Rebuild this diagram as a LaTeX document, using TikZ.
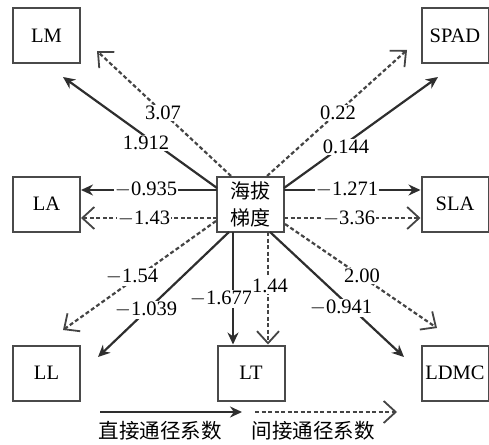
\documentclass[tikz,border=0pt]{standalone}
\usepackage{fontspec}
\setmainfont{Liberation Serif}
\newfontfamily\cjk{Noto Sans CJK SC}
\usetikzlibrary{arrows.meta}
\definecolor{boxgray}{HTML}{4A4A4A}
\definecolor{lineA}{HTML}{2E2E2E}
\definecolor{lineB}{HTML}{444444}
\begin{document}
\begin{tikzpicture}[x=1pt,y=-1pt,
  box/.style={draw=boxgray,line width=2pt,minimum width=67pt,minimum height=55pt,inner sep=0pt,font=\fontsize{20.5}{22}\selectfont},
  direct/.style={draw=lineA,line width=2.2pt,-{Stealth[length=12pt,width=11pt]}},
  indirect/.style={draw=lineB,line width=2.2pt,dash pattern=on 4pt off 2.5pt,-{Straight Barb[length=12pt,width=22pt,line width=1.8pt]}},
  lab/.style={fill=white,inner sep=1pt,font=\fontsize{20.5}{22}\selectfont},
  leg/.style={inner sep=0pt,font=\cjk\fontsize{20.5}{22}\selectfont}]
\useasboundingbox (0,0) rectangle (489,444);

% boxes
\node[box] (LM) at (46.5,35.5) {LM};
\node[box] (LA) at (46.5,204) {LA};
\node[box] (LL) at (46.5,373) {LL};
\node[box] (LT) at (251,373) {LT};
\node[box] (LDMC) at (455,373) {LDMC};
\node[box] (SPAD) at (455,35.5) {SPAD};
\node[box] (SLA) at (455,204) {SLA};
\node[box,align=center,font=\cjk\fontsize{20}{27}\selectfont] (C) at (250,204) {海拔\\梯度};

% start points on centre box
\coordinate (sLMd) at (217,188);
\coordinate (sLMi) at (231,176);
\coordinate (sSPd) at (284,188);
\coordinate (sSPi) at (267,176);
\coordinate (sLAd) at (217,190);
\coordinate (sLAi) at (217,218);
\coordinate (sSLd) at (284,190);
\coordinate (sSLi) at (284,218);
\coordinate (sLLi) at (216,221);
\coordinate (sLLd) at (229,232);
\coordinate (sLTd) at (233,232);
\coordinate (sLTi) at (268,232);
\coordinate (sLDd) at (270,232);
\coordinate (sLDi) at (285,224);

% free ends
\coordinate (eLMd) at (63,77);
\coordinate (eLMi) at (97,51);
\coordinate (eSPd) at (438,77);
\coordinate (eSPi) at (407,50);
\coordinate (eLLi) at (63,330);
\coordinate (eLLd) at (98,357);
\coordinate (eLDd) at (404,357);
\coordinate (eLDi) at (437,328);

% connectors
\draw[direct] (sLMd) -- (eLMd);
\draw[indirect] (sLMi) -- (eLMi);
\draw[direct] (sSPd) -- (eSPd);
\draw[indirect] (sSPi) -- (eSPi);
\draw[direct] (sLAd) -- (LA.east |- sLAd);
\draw[indirect] (sLAi) -- (LA.east |- sLAi);
\draw[direct] (sSLd) -- (SLA.west |- sSLd);
\draw[indirect] (sSLi) -- (SLA.west |- sSLi);
\draw[indirect] (sLLi) -- (eLLi);
\draw[direct] (sLLd) -- (eLLd);
\draw[direct] (sLTd) -- (sLTd |- LT.north);
\draw[indirect] (sLTi) -- (sLTi |- LT.north);
\draw[direct] (sLDd) -- (eLDd);
\draw[indirect] (sLDi) -- (eLDi);

% labels
\node[lab] (l1) at (163,113) {3.07};
\node[lab] (l2) at (146,143) {1.912};
\node[lab] (l3) at (146,190) {$-$0.935};
\node[lab] (l4) at (144,219) {$-$1.43};
\node[lab] (l5) at (338,113) {0.22};
\node[lab] (l6) at (346,147) {0.144};
\node[lab] (l7) at (347,190) {$-$1.271};
\node[lab] (l8) at (349,219) {$-$3.36};
\node[lab] (l9) at (132,277) {$-$1.54};
\node[lab] (l10) at (146,310) {$-$1.039};
\node[lab] (l11) at (221,299) {$-$1.677};
\node[lab] (l12) at (270,286) {1.44};
\node[lab] (l13) at (362,276) {2.00};
\node[lab] (l14) at (341,308) {$-$0.941};

% legend
\coordinate (g1a) at (100,412);
\coordinate (g1b) at (242,412);
\coordinate (g2a) at (255,412);
\coordinate (g2b) at (397,412);
\draw[direct] (g1a) -- (g1b);
\draw[indirect] (g2a) -- (g2b);
\node[leg] (t1) at (160,431) {直接通径系数};
\node[leg] (t2) at (313,431) {间接通径系数};
\end{tikzpicture}
\end{document}
